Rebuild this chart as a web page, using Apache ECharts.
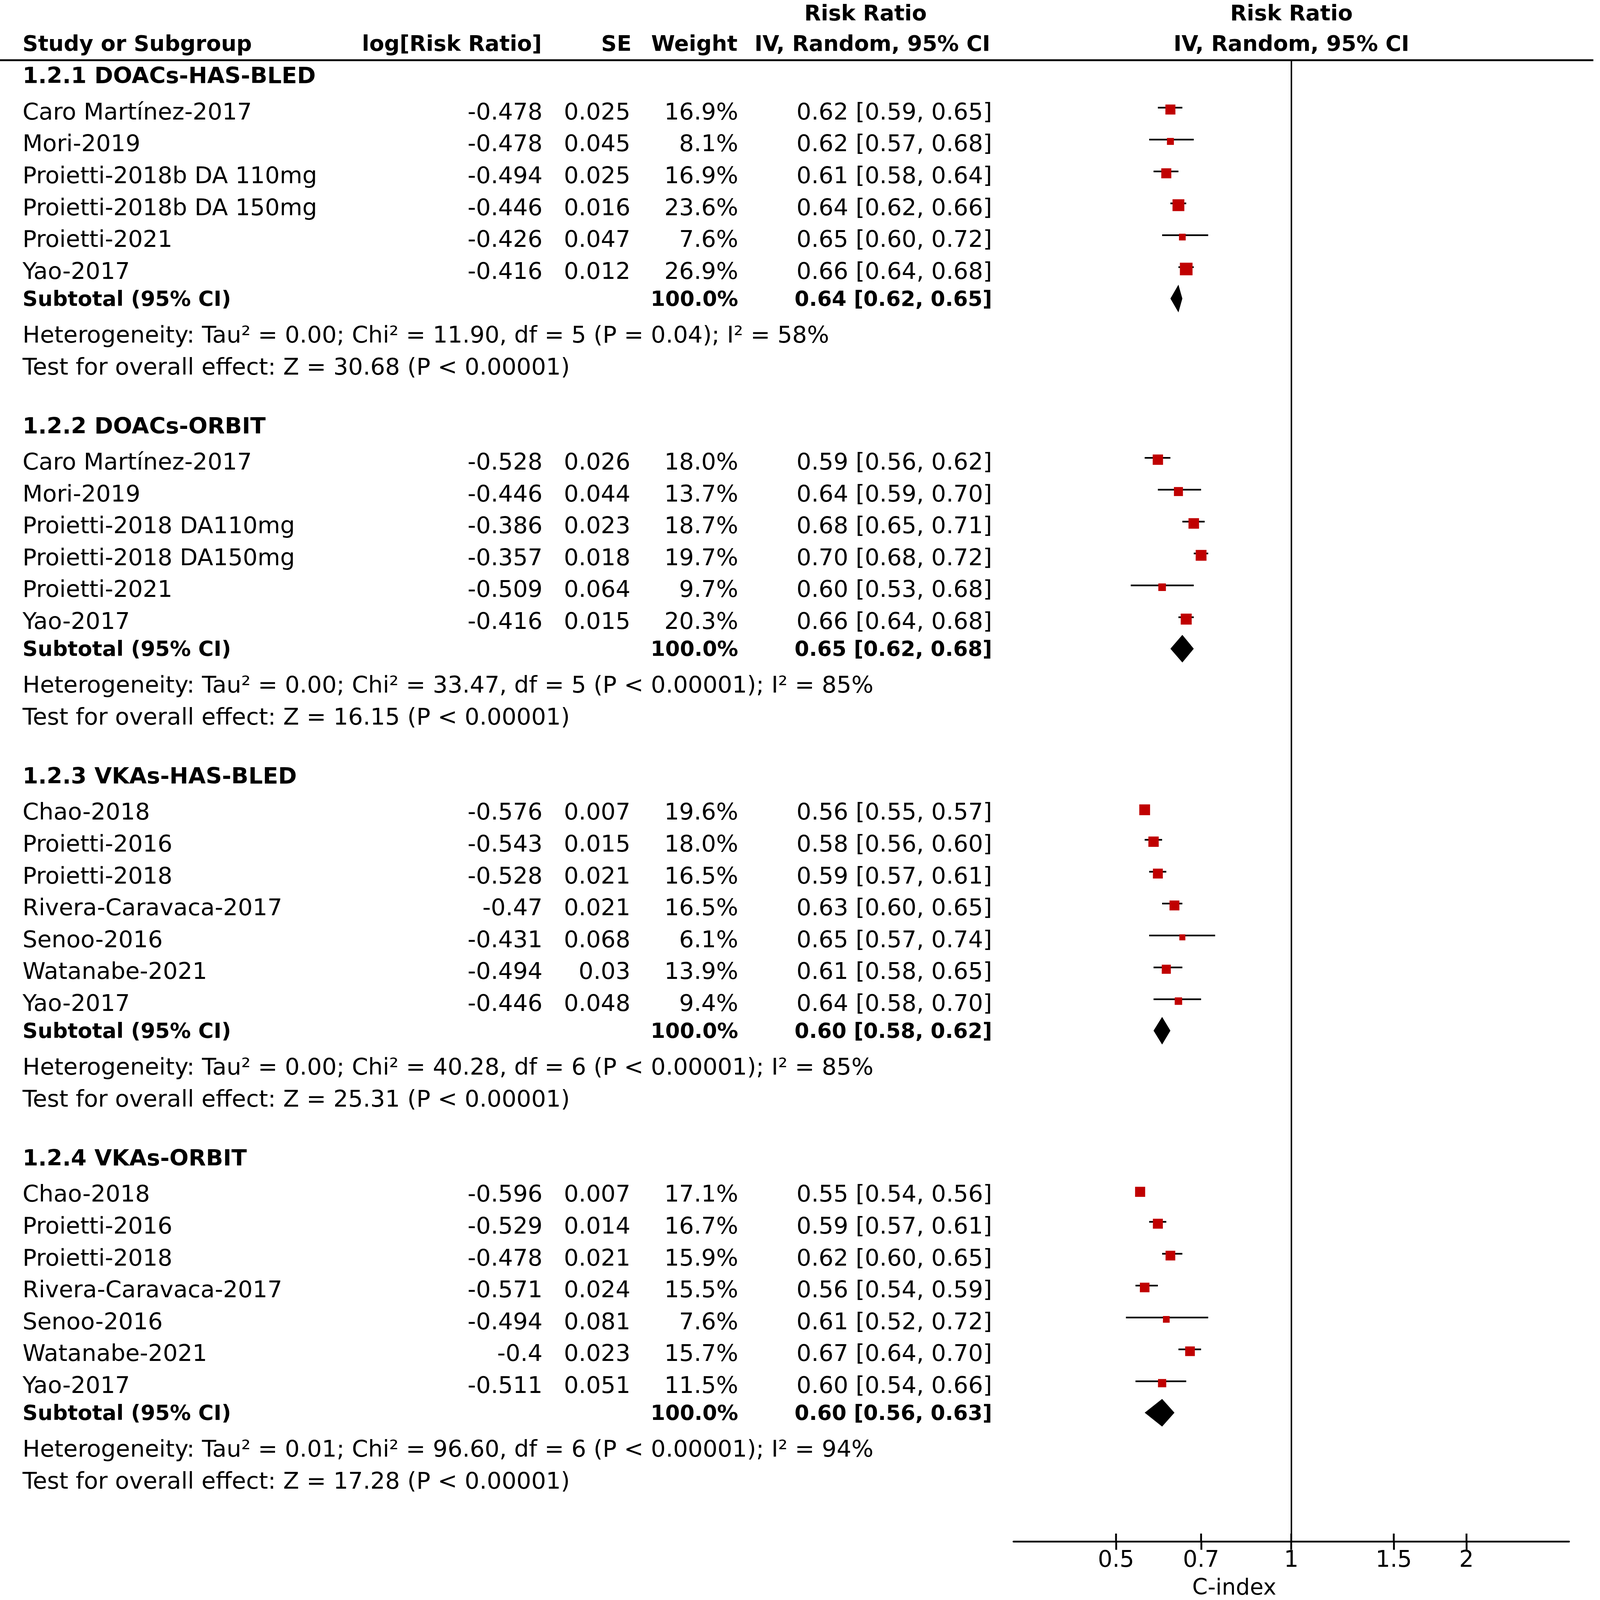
<!DOCTYPE html>
<html><head><meta charset="utf-8">
<script src="https://cdn.jsdelivr.net/npm/echarts@6/dist/echarts.min.js"></script>
<style>html,body{margin:0;padding:0;background:#fff;overflow:hidden;}#chart{width:100vw;height:100vh;}</style>
</head><body><div id="chart"></div>
<script>
// ---------------- DATA ----------------
const groupTitles = ['1.2.1 DOACs-HAS-BLED', '1.2.2 DOACs-ORBIT', '1.2.3 VKAs-HAS-BLED', '1.2.4 VKAs-ORBIT'];
const studyNames = [
  ['Caro Martínez-2017', 'Mori-2019', 'Proietti-2018b DA 110mg', 'Proietti-2018b DA 150mg', 'Proietti-2021', 'Yao-2017'],
  ['Caro Martínez-2017', 'Mori-2019', 'Proietti-2018 DA110mg', 'Proietti-2018 DA150mg', 'Proietti-2021', 'Yao-2017'],
  ['Chao-2018', 'Proietti-2016', 'Proietti-2018', 'Rivera-Caravaca-2017', 'Senoo-2016', 'Watanabe-2021', 'Yao-2017'],
  ['Chao-2018', 'Proietti-2016', 'Proietti-2018', 'Rivera-Caravaca-2017', 'Senoo-2016', 'Watanabe-2021', 'Yao-2017']
];
const logRR = [
  [-0.478, -0.478, -0.494, -0.446, -0.426, -0.416],
  [-0.528, -0.446, -0.386, -0.357, -0.509, -0.416],
  [-0.576, -0.543, -0.528, -0.47, -0.431, -0.494, -0.446],
  [-0.596, -0.529, -0.478, -0.571, -0.494, -0.4, -0.511]
];
const stdErr = [
  [0.025, 0.045, 0.025, 0.016, 0.047, 0.012],
  [0.026, 0.044, 0.023, 0.018, 0.064, 0.015],
  [0.007, 0.015, 0.021, 0.021, 0.068, 0.03, 0.048],
  [0.007, 0.014, 0.021, 0.024, 0.081, 0.023, 0.051]
];
const weights = [
  [16.9, 8.1, 16.9, 23.6, 7.6, 26.9],
  [18.0, 13.7, 18.7, 19.7, 9.7, 20.3],
  [19.6, 18.0, 16.5, 16.5, 6.1, 13.9, 9.4],
  [17.1, 16.7, 15.9, 15.5, 7.6, 15.7, 11.5]
];
const riskRatio = [
  [0.62, 0.62, 0.61, 0.64, 0.65, 0.66],
  [0.59, 0.64, 0.68, 0.70, 0.60, 0.66],
  [0.56, 0.58, 0.59, 0.63, 0.65, 0.61, 0.64],
  [0.55, 0.59, 0.62, 0.56, 0.61, 0.67, 0.60]
];
const ciLow = [
  [0.59, 0.57, 0.58, 0.62, 0.60, 0.64],
  [0.56, 0.59, 0.65, 0.68, 0.53, 0.64],
  [0.55, 0.56, 0.57, 0.60, 0.57, 0.58, 0.58],
  [0.54, 0.57, 0.60, 0.54, 0.52, 0.64, 0.54]
];
const ciHigh = [
  [0.65, 0.68, 0.64, 0.66, 0.72, 0.68],
  [0.62, 0.70, 0.71, 0.72, 0.68, 0.68],
  [0.57, 0.60, 0.61, 0.65, 0.74, 0.65, 0.70],
  [0.56, 0.61, 0.65, 0.59, 0.72, 0.70, 0.66]
];
const subtotalRR = [0.64, 0.65, 0.60, 0.60];
const subtotalLow = [0.62, 0.62, 0.58, 0.56];
const subtotalHigh = [0.65, 0.68, 0.62, 0.63];
const heterogeneityText = [
  'Heterogeneity: Tau² = 0.00; Chi² = 11.90, df = 5 (P = 0.04); I² = 58%',
  'Heterogeneity: Tau² = 0.00; Chi² = 33.47, df = 5 (P < 0.00001); I² = 85%',
  'Heterogeneity: Tau² = 0.00; Chi² = 40.28, df = 6 (P < 0.00001); I² = 85%',
  'Heterogeneity: Tau² = 0.01; Chi² = 96.60, df = 6 (P < 0.00001); I² = 94%'
];
const overallEffectText = [
  'Test for overall effect: Z = 30.68 (P < 0.00001)',
  'Test for overall effect: Z = 16.15 (P < 0.00001)',
  'Test for overall effect: Z = 25.31 (P < 0.00001)',
  'Test for overall effect: Z = 17.28 (P < 0.00001)'
];
const tickValues = [0.5, 0.7, 1, 1.5, 2];
const tickLabels = ['0.5', '0.7', '1', '1.5', '2'];
const axisTitle = 'C-index';

// ---------------- LAYOUT ----------------
const el = document.getElementById('chart');
const VW = el.clientWidth || window.innerWidth, VH = el.clientHeight || window.innerHeight;
const S = Math.min(VW / 4317, VH / 4335);   // design is 4317 x 4335
const P = v => v * S;
const FONT = 'DejaVu Sans';
const FS = { normal: P(63), head: P(58.5), group: P(61), sub: P(57), tick: P(62), title: P(60) };
const RED = '#c00000';
const L = { first: 0.486, headToStudy: 1.12, step: 1, lastToSub: 0.87, subToHet: 1.13, hetToTest: 1.0, testToNext: 1.86 };
const COL = { name: 61, logrr: 1470, se: 1708, weight: 2000, ci: 2688 };
const texts = [];
const studyMarks = [];
const diamondMarks = [];
function T(x, y, text, align, kind) { texts.push({ x, y, text, align, kind }); }
const fmt2 = v => v.toFixed(2);
const ciStr = (r, lo, hi) => fmt2(r) + ' [' + fmt2(lo) + ', ' + fmt2(hi) + ']';

T(COL.name, -0.532, 'Study or Subgroup', 'left', 'head');
T(1468, -0.532, 'log[Risk Ratio]', 'right', 'head');
T(1711, -0.532, 'SE', 'right', 'head');
T(1998, -0.532, 'Weight', 'right', 'head');
T(2345, -1.481, 'Risk Ratio', 'center', 'head');
T(2683, -0.532, 'IV, Random, 95% CI', 'right', 'head');
T(3499, -1.481, 'Risk Ratio', 'center', 'head');
T(3499, -0.532, 'IV, Random, 95% CI', 'center', 'head');

let y = L.first;
groupTitles.forEach((title, g) => {
  T(COL.name, y, title, 'left', 'group');
  y += L.headToStudy;
  studyNames[g].forEach((nm, i) => {
    if (i > 0) y += L.step;
    T(COL.name, y, nm, 'left', 'normal');
    T(COL.logrr, y, String(logRR[g][i]), 'right', 'normal');
    T(COL.se, y, String(stdErr[g][i]), 'right', 'normal');
    T(COL.weight, y, weights[g][i].toFixed(1) + '%', 'right', 'normal');
    T(COL.ci, y, ciStr(riskRatio[g][i], ciLow[g][i], ciHigh[g][i]), 'right', 'normal');
    studyMarks.push([Math.log(riskRatio[g][i]), y, Math.log(ciLow[g][i]), Math.log(ciHigh[g][i]), weights[g][i]]);
  });
  y += L.lastToSub;
  T(COL.name, y, 'Subtotal (95% CI)', 'left', 'sub');
  T(COL.weight, y, '100.0%', 'right', 'sub');
  T(COL.ci, y, ciStr(subtotalRR[g], subtotalLow[g], subtotalHigh[g]), 'right', 'sub');
  diamondMarks.push([Math.log(subtotalRR[g]), y, Math.log(subtotalLow[g]), Math.log(subtotalHigh[g])]);
  y += L.subToHet;
  T(COL.name, y, heterogeneityText[g], 'left', 'normal');
  y += L.hetToTest;
  T(COL.name, y, overallEffectText[g], 'left', 'normal');
  y += L.testToNext;
});

const Y_MAX = 46.46;
const X_MIN = Math.log(1 / 3), X_MAX = Math.log(3);
const tickLn = tickValues.map(v => Math.log(v));

const chart = echarts.init(el, null, { renderer: 'svg' });
chart.setOption({
  animation: false,
  backgroundColor: '#ffffff',
  grid: [
    { left: P(2746), width: P(1505), top: P(163), height: P(4014), containLabel: false },
    { left: 0, width: P(4317), top: P(163), height: P(4014), containLabel: false }
  ],
  xAxis: [
    {
      gridIndex: 0, type: 'value', min: X_MIN, max: X_MAX, position: 'bottom',
      axisLine: { show: true, onZero: false, lineStyle: { color: '#000', width: P(5) } },
      axisTick: { show: true, customValues: tickLn, length: P(22), lineStyle: { color: '#000', width: P(5) } },
      axisLabel: {
        show: true, customValues: tickLn, margin: P(18), color: '#000', fontSize: FS.tick, fontFamily: FONT,
        lineHeight: P(58),
        formatter: v => { const i = tickLn.findIndex(t => Math.abs(t - v) < 1e-6); return i >= 0 ? tickLabels[i] : ''; }
      },
      splitLine: { show: false }
    },
    { gridIndex: 1, type: 'value', min: 0, max: 4317, show: false, axisLine: { onZero: false } }
  ],
  yAxis: [
    { gridIndex: 0, type: 'value', min: 0, max: Y_MAX, inverse: true, show: false, axisLine: { onZero: false } },
    { gridIndex: 1, type: 'value', min: 0, max: Y_MAX, inverse: true, show: false, axisLine: { onZero: false } }
  ],
  graphic: [
    { type: 'line', shape: { x1: 0, y1: P(163), x2: P(4317), y2: P(163) }, style: { stroke: '#000', lineWidth: P(5) } },
    { type: 'text', x: P(3344), y: P(4299), style: { text: axisTitle, fill: '#000', fontSize: FS.title, lineHeight: P(60), fontFamily: FONT, align: 'center', verticalAlign: 'middle' } }
  ],
  series: [
    {
      // upper half of the axis ticks (ticks cross the axis line)
      type: 'custom', name: 'tickUp', xAxisIndex: 0, yAxisIndex: 0,
      data: tickLn.map(t => [t, Y_MAX]),
      renderItem: (params, api) => {
        const c = api.coord([api.value(0), api.value(1)]);
        return { type: 'line', shape: { x1: c[0], y1: c[1] - P(22), x2: c[0], y2: c[1] }, style: { stroke: '#000', lineWidth: P(5) } };
      },
      silent: true, z: 3
    },
    {
      type: 'custom', name: 'studies', xAxisIndex: 0, yAxisIndex: 0,
      data: studyMarks,
      encode: { x: [0, 2, 3], y: 1 },
      renderItem: (params, api) => {
        const c = api.coord([api.value(0), api.value(1)]);
        const lo = api.coord([api.value(2), api.value(1)]);
        const hi = api.coord([api.value(3), api.value(1)]);
        const s = P(6.6 * Math.sqrt(api.value(4)));
        return {
          type: 'group', children: [
            { type: 'line', shape: { x1: lo[0], y1: c[1] - P(10), x2: hi[0], y2: c[1] - P(10) }, style: { stroke: '#000', lineWidth: P(4.5) } },
            { type: 'rect', shape: { x: c[0] - s / 2, y: c[1] - P(5) - s / 2, width: s, height: s }, style: { fill: RED } }
          ]
        };
      },
      markLine: {
        silent: true, symbol: ['none', 'none'], label: { show: false },
        lineStyle: { color: '#000', width: P(4), type: 'solid' },
        data: [{ xAxis: 0 }]
      },
      z: 3
    },
    {
      type: 'custom', name: 'subtotals', xAxisIndex: 0, yAxisIndex: 0,
      data: diamondMarks,
      encode: { x: [0, 2, 3], y: 1 },
      renderItem: (params, api) => {
        const c = api.coord([api.value(0), api.value(1)]);
        const lo = api.coord([api.value(2), api.value(1)]);
        const hi = api.coord([api.value(3), api.value(1)]);
        const h = P(37.5);
        return {
          type: 'polygon',
          shape: { points: [[lo[0], c[1]], [c[0], c[1] - h], [hi[0], c[1]], [c[0], c[1] + h]] },
          style: { fill: '#000' }
        };
      },
      z: 3
    },
    {
      type: 'custom', name: 'table', xAxisIndex: 1, yAxisIndex: 1,
      data: texts.map(t => [t.x, t.y]),
      renderItem: (params, api) => {
        const t = texts[params.dataIndex];
        const p = api.coord([t.x, t.y]);
        return {
          type: 'text', x: p[0], y: p[1],
          style: {
            text: t.text, fill: '#000', fontFamily: FONT,
            fontSize: FS[t.kind], fontWeight: t.kind === 'normal' ? 'normal' : 'bold',
            align: t.align, verticalAlign: 'middle'
          }
        };
      },
      z: 2
    }
  ]
});
window.addEventListener('resize', () => chart.resize());
</script>
</body></html>
